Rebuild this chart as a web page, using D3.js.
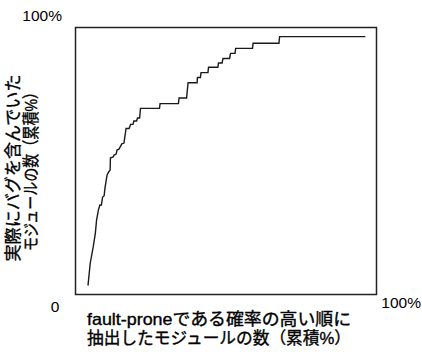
<!DOCTYPE html>
<html>
<head>
<meta charset="utf-8">
<script src="https://cdn.jsdelivr.net/npm/d3@7"></script>
<style>
  html, body { margin: 0; padding: 0; background: #fff; }
  svg { display: block; }
  text { font-family: "Liberation Sans", Arial, "Noto Sans CJK JP", sans-serif; fill: #000; }
</style>
</head>
<body>
<svg id="chart" width="422" height="356"></svg>
<script>
// Cumulative % of modules extracted (in order of fault-prone probability)
const extractedPct = [4.15, 4.9, 5.9, 6.6, 7.0, 7.6, 8.1, 8.6, 9.0, 9.5, 9.8, 10.5, 11.0, 11.5, 11.6, 12.5,
  12.8, 13.5, 13.8, 14.5, 14.8, 15.4, 16.1, 16.8, 17.8, 18.3, 19.1, 19.4, 20.3, 20.6, 21.3, 21.6, 27.9,
  28.1, 34.2, 34.4, 36.9, 37.4, 40.4, 40.5, 41.5, 41.7, 44.0, 44.2, 47.3, 47.5, 48.7, 49.0, 51.2, 51.5,
  53.0, 53.2, 58.8, 59.0, 67.6, 67.8, 96.3];
// Cumulative % of modules that actually contained bugs
const buggyPct = [3.3, 11.8, 17.9, 23.0, 27.9, 31.6, 33.5, 33.5, 36.5, 36.9, 39.9, 44.8, 45.9, 46.6, 51.1, 51.5,
  52.2, 52.6, 54.1, 54.5, 55.2, 56.4, 56.7, 62.2, 62.2, 63.7, 63.7, 65.0, 65.0, 66.1, 66.1, 69.7, 69.7,
  71.5, 71.5, 73.6, 73.6, 79.3, 79.3, 81.3, 81.3, 83.1, 83.1, 85.1, 85.1, 86.7, 86.7, 88.4, 88.4, 90.3,
  90.3, 92.2, 92.2, 94.1, 94.1, 96.6, 96.6];

const xTickLabels = ["0", "100%"];
const yTickLabels = ["0", "100%"];
const xTitle = ["fault-proneである確率の高い順に", "抽出したモジュールの数（累積%）"];
const yTitle = ["実際にバグを含んでいた", "モジュールの数（累積%）"];

const svg = d3.select("#chart");
const box = { left: 75.5, right: 376.5, top: 27.5, bottom: 294.5 };

const x = d3.scaleLinear().domain([0, 100]).range([box.left, box.right]);
const y = d3.scaleLinear().domain([0, 100]).range([box.bottom, box.top]);

// frame
svg.append("rect")
  .attr("x", x(0)).attr("y", y(100))
  .attr("width", x(100) - x(0)).attr("height", y(0) - y(100))
  .attr("fill", "none").attr("stroke", "#222").attr("stroke-width", 1.5);

// curve
const pts = extractedPct.map((v, i) => [v, buggyPct[i]]);
svg.append("path")
  .datum(pts)
  .attr("fill", "none")
  .attr("stroke", "#1a1a1a")
  .attr("stroke-width", 1.4)
  .attr("stroke-linejoin", "miter")
  .attr("d", d3.line().x(d => x(d[0])).y(d => y(d[1])));

// tick labels
svg.append("text").attr("x", 62).attr("y", 21).attr("text-anchor", "end")
  .attr("font-size", 15.5).text(yTickLabels[1]);
svg.append("text").attr("x", 55).attr("y", 312).attr("text-anchor", "middle")
  .attr("font-size", 15.5).text(xTickLabels[0]);
svg.append("text").attr("x", 421).attr("y", 308).attr("text-anchor", "end")
  .attr("font-size", 15.5).text(xTickLabels[1]);

// x title
const xt = svg.append("text").attr("font-size", 16.5)
  .attr("stroke", "#000").attr("stroke-width", 0.35);
xt.append("tspan").attr("x", 87).attr("y", 325)
  .attr("textLength", 264).attr("lengthAdjust", "spacingAndGlyphs").text(xTitle[0]);
xt.append("tspan").attr("x", 87).attr("y", 343.5)
  .attr("textLength", 264).attr("lengthAdjust", "spacingAndGlyphs").text(xTitle[1]);

// y title (rotated)
const yt = svg.append("text").attr("font-size", 17)
  .attr("stroke", "#000").attr("stroke-width", 0.35)
  .attr("text-anchor", "middle")
  .attr("transform", "translate(0,168) rotate(-90)");
yt.append("tspan").attr("x", 0).attr("y", 19)
  .attr("textLength", 187).attr("lengthAdjust", "spacingAndGlyphs").text(yTitle[0]);
yt.append("tspan").attr("x", 0).attr("y", 37)
  .attr("textLength", 166).attr("lengthAdjust", "spacingAndGlyphs").text(yTitle[1]);
</script>
</body>
</html>
